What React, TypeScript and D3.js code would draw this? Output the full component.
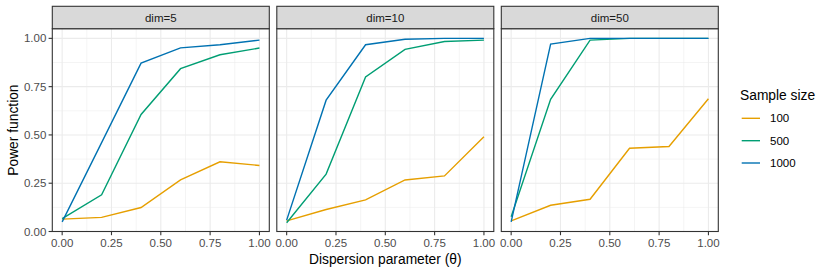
import React, { useEffect, useRef } from "react";
import * as d3 from "d3";

// dispersion values on the x axis
const theta = [0, 0.2, 0.4, 0.6, 0.8, 1.0];
const panels = ["dim=5", "dim=10", "dim=50"];
const sampleSizes = ["100", "500", "1000"];
const xTicks = [0, 0.25, 0.5, 0.75, 1];
const yTicks = [0, 0.25, 0.5, 0.75, 1];

// power per panel, one array per sample size
const dim5_n100 = [0.064, 0.073, 0.124, 0.267, 0.361, 0.342];
const dim5_n500 = [0.067, 0.19, 0.606, 0.843, 0.915, 0.95];
const dim5_n1000 = [0.05, 0.46, 0.872, 0.951, 0.967, 0.991];

const dim10_n100 = [0.055, 0.114, 0.164, 0.267, 0.288, 0.49];
const dim10_n500 = [0.045, 0.297, 0.8, 0.943, 0.984, 0.991];
const dim10_n1000 = [0.059, 0.68, 0.967, 0.995, 1.0, 1.0];

const dim50_n100 = [0.055, 0.136, 0.167, 0.431, 0.44, 0.687];
const dim50_n500 = [0.076, 0.684, 0.991, 1.0, 1.0, 1.0];
const dim50_n1000 = [0.05, 0.97, 1.0, 1.0, 1.0, 1.0];

const colors = ["#E69F00", "#009E73", "#0072B2"];

export default function App() {
  const ref = useRef<SVGSVGElement>(null);

  useEffect(() => {
    const svg = d3.select(ref.current);
    svg.selectAll("*").remove();

    const font = "'Liberation Sans', Arial, Helvetica, sans-serif";
    const small = 11.5;
    const big = 13.8;
    const panelW = 217;
    const lefts = [52.3, 276.8, 501.3];
    const stripTop = 6.3;
    const panelTop = 28.7;
    const panelBottom = 231.5;

    const series = [
      [dim5_n100, dim5_n500, dim5_n1000],
      [dim10_n100, dim10_n500, dim10_n1000],
      [dim50_n100, dim50_n500, dim50_n1000],
    ];

    const y = d3.scaleLinear().domain([0, 1.05]).range([panelBottom, panelTop]);
    const minorY = [0.125, 0.375, 0.625, 0.875];
    const minorX = [0.125, 0.375, 0.625, 0.875];

    panels.forEach((label, p) => {
      const left = lefts[p];
      const x = d3.scaleLinear().domain([-0.05, 1.05]).range([left, left + panelW]);
      const g = svg.append("g");

      g.append("rect")
        .attr("x", left).attr("y", panelTop)
        .attr("width", panelW).attr("height", panelBottom - panelTop)
        .attr("fill", "white");

      // minor grid
      minorY.forEach((v) => {
        g.append("line").attr("x1", left).attr("x2", left + panelW)
          .attr("y1", y(v)).attr("y2", y(v))
          .attr("stroke", "#EBEBEB").attr("stroke-width", 0.55);
      });
      minorX.forEach((v) => {
        g.append("line").attr("x1", x(v)).attr("x2", x(v))
          .attr("y1", panelTop).attr("y2", panelBottom)
          .attr("stroke", "#EBEBEB").attr("stroke-width", 0.55);
      });
      // major grid
      yTicks.forEach((v) => {
        g.append("line").attr("x1", left).attr("x2", left + panelW)
          .attr("y1", y(v)).attr("y2", y(v))
          .attr("stroke", "#EBEBEB").attr("stroke-width", 1.1);
      });
      xTicks.forEach((v) => {
        g.append("line").attr("x1", x(v)).attr("x2", x(v))
          .attr("y1", panelTop).attr("y2", panelBottom)
          .attr("stroke", "#EBEBEB").attr("stroke-width", 1.1);
      });

      const line = d3.line<number>()
        .x((_, i) => x(theta[i]))
        .y((d) => y(d));

      series[p].forEach((vals, s) => {
        g.append("path")
          .attr("d", line(vals))
          .attr("fill", "none")
          .attr("stroke", colors[s])
          .attr("stroke-width", 1.4);
      });

      // panel border
      g.append("rect")
        .attr("x", left).attr("y", panelTop)
        .attr("width", panelW).attr("height", panelBottom - panelTop)
        .attr("fill", "none").attr("stroke", "#333333").attr("stroke-width", 1.1);

      // strip
      g.append("rect")
        .attr("x", left).attr("y", stripTop)
        .attr("width", panelW).attr("height", panelTop - stripTop)
        .attr("fill", "#D9D9D9").attr("stroke", "#333333").attr("stroke-width", 1.1);
      g.append("text")
        .attr("x", left + panelW / 2).attr("y", (stripTop + panelTop) / 2)
        .attr("dy", "0.35em").attr("text-anchor", "middle")
        .attr("font-family", font).attr("font-size", small)
        .attr("fill", "#1A1A1A").text(label);

      // x axis
      xTicks.forEach((v) => {
        g.append("line").attr("x1", x(v)).attr("x2", x(v))
          .attr("y1", panelBottom).attr("y2", panelBottom + 3.7)
          .attr("stroke", "#333333").attr("stroke-width", 1.1);
        g.append("text")
          .attr("x", x(v)).attr("y", 243.3).attr("dy", "0.35em")
          .attr("text-anchor", "middle")
          .attr("font-family", font).attr("font-size", small)
          .attr("fill", "#4D4D4D").text(d3.format(".2f")(v));
      });

      if (p === 0) {
        yTicks.forEach((v) => {
          g.append("line").attr("x1", left - 3.7).attr("x2", left)
            .attr("y1", y(v)).attr("y2", y(v))
            .attr("stroke", "#333333").attr("stroke-width", 1.1);
          g.append("text")
            .attr("x", left - 6).attr("y", y(v)).attr("dy", "0.35em")
            .attr("text-anchor", "end")
            .attr("font-family", font).attr("font-size", small)
            .attr("fill", "#4D4D4D").text(d3.format(".2f")(v));
        });
      }
    });

    // axis titles
    svg.append("text")
      .attr("x", (lefts[0] + lefts[2] + panelW) / 2).attr("y", 259).attr("dy", "0.35em")
      .attr("text-anchor", "middle")
      .attr("font-family", font).attr("font-size", big).attr("fill", "black")
      .text("Dispersion parameter (\u03B8)");
    svg.append("text")
      .attr("transform", `translate(12.7, ${(panelTop + panelBottom) / 2}) rotate(-90)`)
      .attr("dy", "0.35em").attr("text-anchor", "middle")
      .attr("font-family", font).attr("font-size", big).attr("fill", "black")
      .text("Power function");

    // legend
    svg.append("text")
      .attr("x", 740).attr("y", 95).attr("dy", "0.35em")
      .attr("font-family", font).attr("font-size", big).attr("fill", "black")
      .text("Sample size");
    const keyY = [118.3, 140.7, 163];
    sampleSizes.forEach((n, i) => {
      svg.append("line")
        .attr("x1", 741.7).attr("x2", 760)
        .attr("y1", keyY[i]).attr("y2", keyY[i])
        .attr("stroke", colors[i]).attr("stroke-width", 1.4);
      svg.append("text")
        .attr("x", 770).attr("y", keyY[i]).attr("dy", "0.35em")
        .attr("font-family", font).attr("font-size", small).attr("fill", "black")
        .text(n);
    });
  }, []);

  return (
    <div style={{ position: "fixed", left: 0, top: 0 }}>
      <svg ref={ref} width={830} height={277} style={{ display: "block", background: "white" }} />
    </div>
  );
}
